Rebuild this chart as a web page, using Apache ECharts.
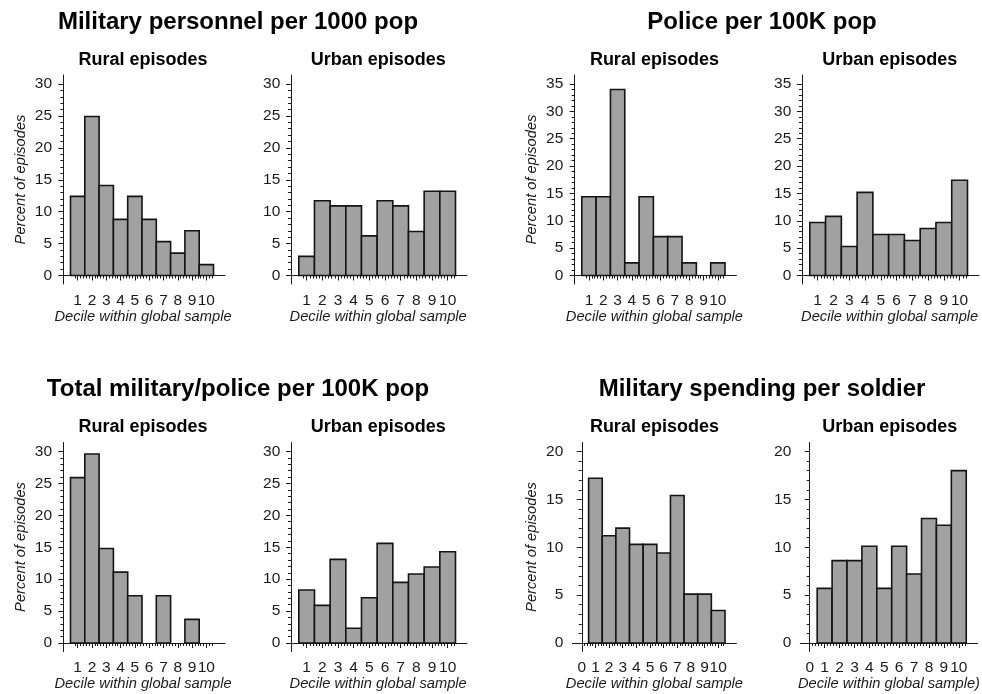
<!DOCTYPE html>
<html>
<head>
<meta charset="utf-8">
<script src="https://cdn.jsdelivr.net/npm/echarts@6/dist/echarts.min.js"></script>
<style>
  html, body { margin: 0; padding: 0; background: #fff; }
  #chart { width: 982px; height: 694px; }
</style>
</head>
<body>
<div id="chart"></div>
<script>
// Deciles on the x axis and their tick labels
const deciles = [1, 2, 3, 4, 5, 6, 7, 8, 9, 10];
const decileTicks = [1, 2, 3, 4, 5, 6, 7, 8, 9, 10];
const decileTicksFromZero = [0, 1, 2, 3, 4, 5, 6, 7, 8, 9, 10];

// Percent of episodes falling in each decile
const milPersonnelRural = [12.4, 24.9, 14.1, 8.8, 12.4, 8.8, 5.3, 3.5, 7.0, 1.7];
const milPersonnelUrban = [3.0, 11.7, 10.9, 10.9, 6.2, 11.7, 10.9, 6.9, 13.2, 13.2];
const policeRural = [14.4, 14.4, 34.0, 2.3, 14.4, 7.1, 7.1, 2.3, 0, 2.3];
const policeUrban = [9.7, 10.8, 5.3, 15.2, 7.5, 7.5, 6.4, 8.6, 9.7, 17.4];
const totalRural = [25.9, 29.6, 14.8, 11.1, 7.4, 0, 7.4, 0, 3.7, 0];
const totalUrban = [8.3, 5.9, 13.1, 2.3, 7.1, 15.6, 9.5, 10.8, 11.9, 14.3];
const spendingRural = [17.2, 11.2, 12.0, 10.3, 10.3, 9.4, 15.4, 5.1, 5.1, 3.4];
const spendingUrban = [5.7, 8.6, 8.6, 10.1, 5.7, 10.1, 7.2, 13.0, 12.3, 18.0];

// y tick labels
const yTicks20 = [0, 5, 10, 15, 20];
const yTicks30 = [0, 5, 10, 15, 20, 25, 30];
const yTicks35 = [0, 5, 10, 15, 20, 25, 30, 35];

// Text
const groupTitles = [
  'Military personnel per 1000 pop',
  'Police per 100K pop',
  'Total military/police per 100K pop',
  'Military spending per soldier'
];
const ruralTitle = 'Rural episodes';
const urbanTitle = 'Urban episodes';
const yTitle = 'Percent of episodes';
const xTitle = 'Decile within global sample';
const xTitleLast = 'Decile within global sample)';

// ---- layout ----
const FONT = '"Liberation Sans", Arial, Helvetica, sans-serif';
const INK = '#1a1a1a';
const TICK_FONT = 15.5;
const AXIS_TITLE_FONT = 14.7;
const columns = [
  { left: 61, width: 164 },
  { left: 289.3, width: 177.7 },
  { left: 572.3, width: 164.2 },
  { left: 800.3, width: 178.7 }
];
const rows = [
  { top: 75, height: 209 },
  { top: 442.5, height: 209 }
];
const PAD = { left: 9.5, right: 11.5, top: 9, bottom: 8.5 };
const groupCenters = [238, 762];
const titleY = [22, 389.5];
const subTitleY = [60, 427.5];

const panels = [
  { row: 0, col: 0, values: milPersonnelRural, yTicks: yTicks30, xTicks: decileTicks, sub: ruralTitle, yName: true, xName: xTitle },
  { row: 0, col: 1, values: milPersonnelUrban, yTicks: yTicks30, xTicks: decileTicks, sub: urbanTitle, yName: false, xName: xTitle },
  { row: 0, col: 2, values: policeRural, yTicks: yTicks35, xTicks: decileTicks, sub: ruralTitle, yName: true, xName: xTitle },
  { row: 0, col: 3, values: policeUrban, yTicks: yTicks35, xTicks: decileTicks, sub: urbanTitle, yName: false, xName: xTitle },
  { row: 1, col: 0, values: totalRural, yTicks: yTicks30, xTicks: decileTicks, sub: ruralTitle, yName: true, xName: xTitle },
  { row: 1, col: 1, values: totalUrban, yTicks: yTicks30, xTicks: decileTicks, sub: urbanTitle, yName: false, xName: xTitle },
  { row: 1, col: 2, values: spendingRural, yTicks: yTicks20, xTicks: decileTicksFromZero, sub: ruralTitle, yName: true, xName: xTitle },
  { row: 1, col: 3, values: spendingUrban, yTicks: yTicks20, xTicks: decileTicksFromZero, sub: urbanTitle, yName: false, xName: xTitleLast }
];

function round3(v) { return Math.round(v * 1000) / 1000; }

const grid = [], xAxis = [], yAxis = [], series = [], graphic = [];

panels.forEach((p, i) => {
  const c = columns[p.col], r = rows[p.row];
  grid.push({ left: c.left, top: r.top, width: c.width, height: r.height, containLabel: false });

  // x extent: the bar region plus a few pixels of air at both ends of the axis line
  const lo = p.xTicks[0] === 0 ? 0 : 0.5, hi = 10.5;
  const xu = (c.width - PAD.left - PAD.right) / (hi - lo);
  const xMin = lo - PAD.left / xu, xMax = hi + PAD.right / xu;

  const top = p.yTicks[p.yTicks.length - 1];
  const yu = (r.height - PAD.top - PAD.bottom) / top;
  const yMin = -PAD.bottom / yu, yMax = top + PAD.top / yu;

  // minor tick positions
  const xMinor = [];
  for (let k = Math.round(lo * 5) + 1; k < hi * 5; k++) {
    if (k % 5 !== 0) xMinor.push(round3(k / 5));
  }
  const yMinor = [];
  for (let k = 1; k < top; k++) if (k % 5 !== 0) yMinor.push(k);

  const baseX = {
    gridIndex: i, type: 'value', min: xMin, max: xMax, position: 'bottom',
    splitLine: { show: false }
  };
  xAxis.push(Object.assign({}, baseX, {
    axisLine: { show: true, lineStyle: { color: INK, width: 1 } },
    axisTick: { show: true, length: 5, customValues: p.xTicks, lineStyle: { color: INK, width: 1 } },
    axisLabel: { show: true, customValues: p.xTicks, margin: 8.5, color: INK, fontSize: TICK_FONT, fontFamily: FONT },
    name: p.xName, nameLocation: 'middle', nameGap: 21,
    nameTextStyle: { fontStyle: 'italic', fontSize: AXIS_TITLE_FONT, color: INK, fontFamily: FONT }
  }));
  xAxis.push(Object.assign({}, baseX, {
    axisLine: { show: false },
    axisTick: { show: true, length: 3, customValues: xMinor, lineStyle: { color: INK, width: 1 } },
    axisLabel: { show: false }
  }));

  const baseY = {
    gridIndex: i, type: 'value', min: yMin, max: yMax, position: 'left',
    splitLine: { show: false }
  };
  yAxis.push(Object.assign({}, baseY, {
    axisLine: { show: true, lineStyle: { color: INK, width: 1 } },
    axisTick: { show: true, length: 5, customValues: p.yTicks, lineStyle: { color: INK, width: 1 } },
    axisLabel: { show: true, customValues: p.yTicks, margin: 9, color: INK, fontSize: TICK_FONT, fontFamily: FONT },
    name: p.yName ? yTitle : '', nameLocation: 'middle', nameGap: 33, nameRotate: 90,
    nameTextStyle: { fontStyle: 'italic', fontSize: AXIS_TITLE_FONT, color: INK, fontFamily: FONT }
  }));
  yAxis.push(Object.assign({}, baseY, {
    axisLine: { show: false },
    axisTick: { show: true, length: 3, customValues: yMinor, lineStyle: { color: INK, width: 1 } },
    axisLabel: { show: false }
  }));

  series.push({
    type: 'custom',
    xAxisIndex: i * 2,
    yAxisIndex: i * 2,
    data: deciles.map((d, k) => [d, p.values[k]]),
    clip: false,
    renderItem(params, api) {
      const x = api.value(0), v = api.value(1);
      if (!v) return null;
      const a = api.coord([x - 0.5, v]);
      const b = api.coord([x + 0.5, 0]);
      return {
        type: 'rect',
        shape: { x: a[0], y: a[1], width: b[0] - a[0], height: b[1] - a[1] },
        style: { fill: '#a1a1a1', stroke: '#141414', lineWidth: 1.6 }
      };
    }
  });

  graphic.push({
    type: 'text', x: c.left + c.width / 2, y: subTitleY[p.row],
    style: { text: p.sub, fill: '#000', fontSize: 18, fontWeight: 'bold', fontFamily: FONT, align: 'center', verticalAlign: 'middle' }
  });
});

groupTitles.forEach((t, g) => {
  graphic.push({
    type: 'text', x: groupCenters[g % 2], y: titleY[Math.floor(g / 2)],
    style: { text: t, fill: '#000', fontSize: 24, fontWeight: 'bold', fontFamily: FONT, align: 'center', verticalAlign: 'middle' }
  });
});

const chart = echarts.init(document.getElementById('chart'), null, { renderer: 'canvas' });
chart.setOption({
  animation: false,
  backgroundColor: '#ffffff',
  grid, xAxis, yAxis, series, graphic
});
</script>
</body>
</html>
